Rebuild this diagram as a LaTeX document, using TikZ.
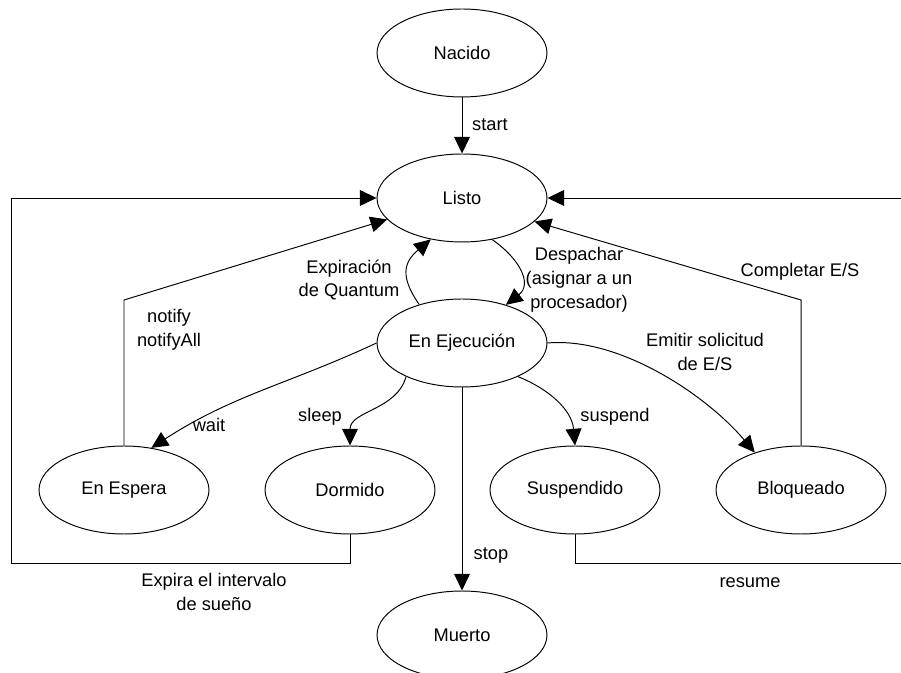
\documentclass[tikz,border=0pt]{standalone}
\usepackage{fontspec}
\setmainfont{Liberation Sans}
\usetikzlibrary{shapes}
\usetikzlibrary{arrows.meta}

\begin{document}
\begin{tikzpicture}[x=0.02cm,y=0.02cm,line width=0.55pt,
  font=\fontsize{10.4}{13.6}\selectfont,
  estado/.style={draw,ellipse,inner sep=0pt,minimum width=3.4cm,minimum height=1.76cm},
  flecha/.style={-{Triangle[length=9.5pt,width=9pt]}},
  etiq/.style={align=center,inner sep=0pt}]
\useasboundingbox (0,0) rectangle (901,672);
% estados
\node[estado] (NA)at(462,619){Nacido};
\node[estado] (L)at(462,474){Listo};
\node[estado] (EJ)at(462,329){En Ejecución};
\node[estado] (EE)at(124,182){En Espera};
\node[estado] (DO)at(350,182){Dormido};
\node[estado] (SU)at(575,182){Suspendido};
\node[estado] (BL)at(801,182){Bloqueado};
\node[estado] (MU)at(462,37){Muerto};
% transiciones
\draw[flecha] (NA.south) -- (L.north);
\draw[flecha] (EJ.138) to[out=125,in=220,looseness=1.35] (L.233);
\draw[flecha] (L.306) to[out=-35,in=38,looseness=1.3] (EJ.41);
\draw[flecha] (EJ.west) to[out=205,in=33] (EE.57);
\draw[flecha] (EJ.211) to[out=255,in=90] (DO.north);
\draw[flecha] (EJ.south) -- (MU.north);
\draw[flecha] (EJ.329) to[out=-22,in=95] (SU.north);
\draw[flecha] (EJ.east) to[out=5,in=130,looseness=0.8] (BL.141);
\draw[flecha] (EE.north) -- (EE.north |- 0,372) -- (L.196);
\draw[flecha] (BL.north) -- (BL.north |- 0,372) -- (L.342);
\draw[flecha] (DO.south) |- (11,109) -- (11,474) -- (L.west);
\draw[flecha] (SU.south) |- (903,109) -- (903,474) -- (L.east);
% etiquetas
\node[etiq] (tstart)at(490,547){start};
\node[etiq] (tquant)at(349,392){Expiración\\de Quantum};
\node[etiq] (tdesp)at(579,392){Despachar\\(asignar a un\\procesador)};
\node[etiq] (tnotif)at(169,342){notify\\notifyAll};
\node[etiq] (tcompl)at(800,400){Completar E/S};
\node[etiq] (temit)at(705,320){Emitir solicitud\\de E/S};
\node[etiq] (twait)at(209,247){wait};
\node[etiq] (tsleep)at(320,255){sleep};
\node[etiq] (tsusp)at(615,255){suspend};
\node[etiq] (tstop)at(491,117){stop};
\node[etiq] (texpira)at(214,80){Expira el intervalo\\de sueño};
\node[etiq] (tresume)at(750,89){resume};
\end{tikzpicture}
\end{document}
